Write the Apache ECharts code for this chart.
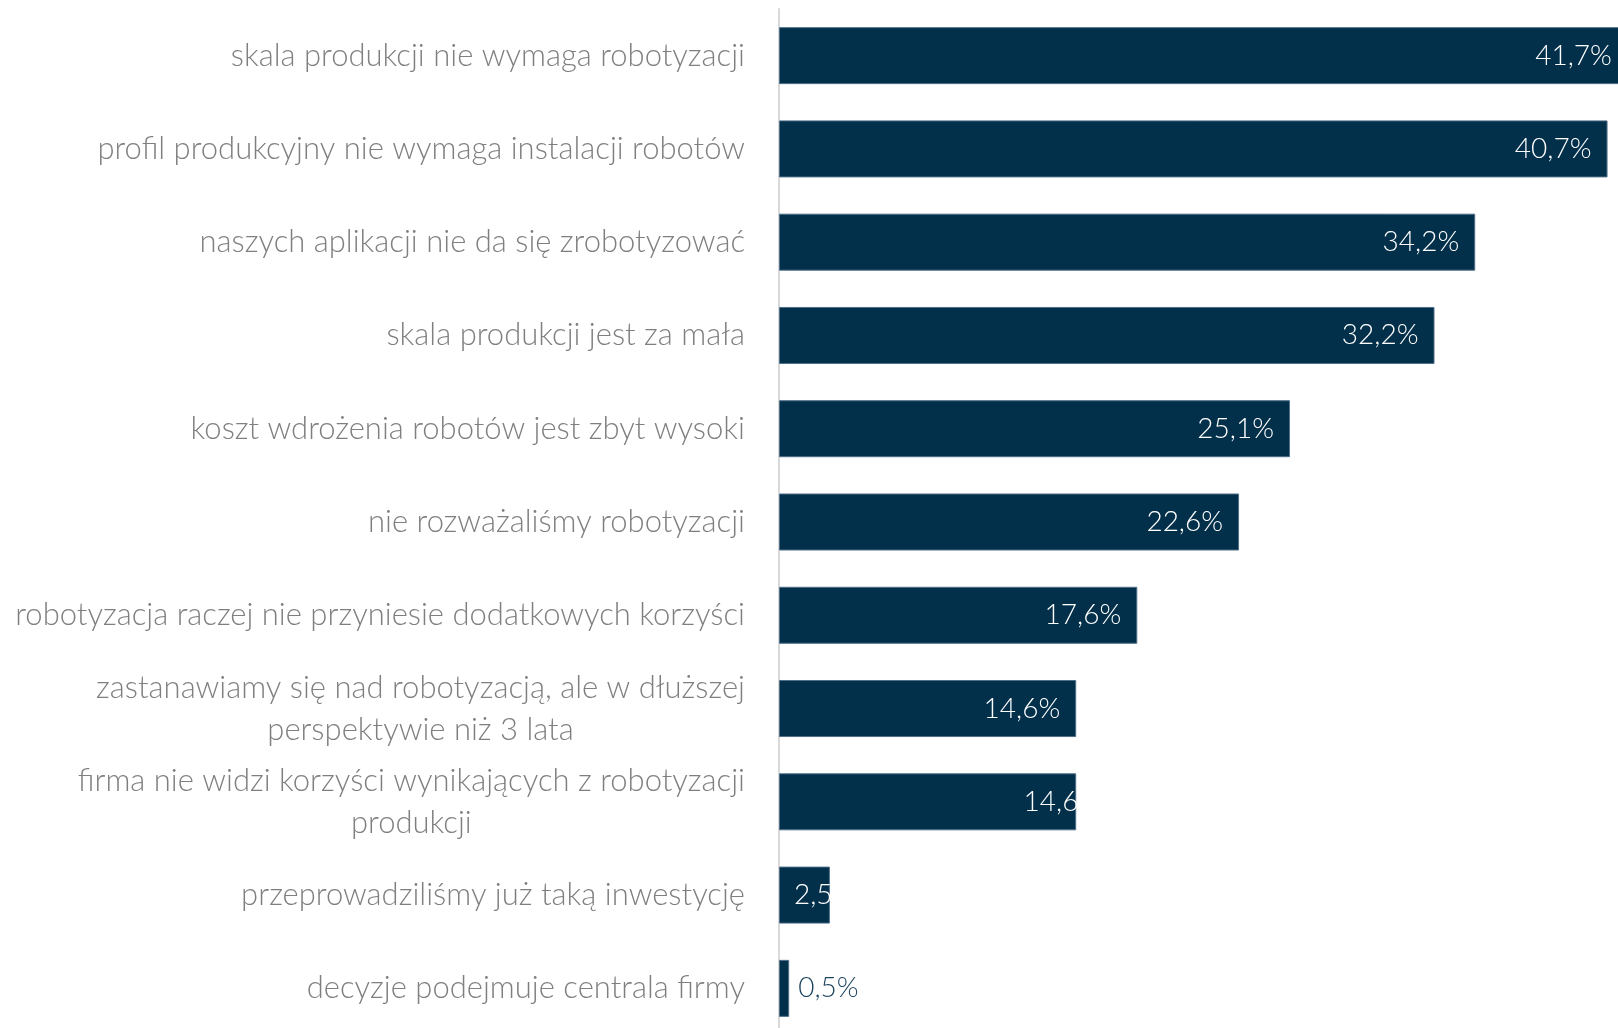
<!DOCTYPE html>
<html>
<head>
<meta charset="utf-8">
<script src="https://cdn.jsdelivr.net/npm/echarts@6/dist/echarts.min.js"></script>
<style>
  html, body { margin: 0; padding: 0; background: #ffffff; }
  #chart { width: 1618px; height: 1028px; }
</style>
</head>
<body>
<div id="chart"></div>
<script>
// Powody braku robotyzacji (% odpowiedzi)
const categories = [
  'skala produkcji nie wymaga robotyzacji',
  'profil produkcyjny nie wymaga instalacji robotów',
  'naszych aplikacji nie da się zrobotyzować',
  'skala produkcji jest za mała',
  'koszt wdrożenia robotów jest zbyt wysoki',
  'nie rozważaliśmy robotyzacji',
  'robotyzacja raczej nie przyniesie dodatkowych korzyści',
  'zastanawiamy się nad robotyzacją, ale w dłuższej\nperspektywie niż 3 lata',
  'firma nie widzi korzyści wynikających z robotyzacji\nprodukcji',
  'przeprowadziliśmy już taką inwestycję',
  'decyzje podejmuje centrala firmy'
];
const values = [41.7, 40.7, 34.2, 32.2, 25.1, 22.6, 17.6, 14.6, 14.6, 2.5, 0.5];

const FONT = 'Lato, "Open Sans", sans-serif';
const BAR_COLOR = '#022f4a';

function pct(v) {
  return v.toFixed(1).replace('.', ',') + '%';
}

// label placement tweaks for the short bars
const labelTweaks = {
  8: { offset: [40, 0] },
  9: { position: 'insideLeft', distance: 15 },
  10: { position: 'right', distance: 9, color: '#1d4560' }
};

const seriesData = values.map((v, i) => {
  const item = { value: v };
  if (labelTweaks[i]) item.label = labelTweaks[i];
  return item;
});

const chart = echarts.init(document.getElementById('chart'), null, { renderer: 'canvas' });

chart.setOption({
  backgroundColor: '#ffffff',
  animation: false,
  grid: {
    left: 779,
    top: 9,
    width: 855,
    height: 1026,
    outerBoundsMode: 'none',
    containLabel: false
  },
  xAxis: {
    type: 'value',
    min: 0,
    max: 42,
    show: false
  },
  yAxis: {
    type: 'category',
    data: categories,
    inverse: true,
    offset: 1,
    axisLine: { show: true, lineStyle: { color: '#d9d9d9', width: 2 } },
    axisTick: { show: false },
    splitLine: { show: false },
    axisLabel: {
      margin: 33,
      color: '#7f7f7f',
      fontFamily: FONT,
      fontWeight: 300,
      fontSize: 31,
      lineHeight: 42,
      formatter: function (val) {
        return val.split('\n').map(function (l) { return '{c|' + l + '}'; }).join('\n');
      },
      rich: {
        c: {
          align: 'center',
          color: '#7f7f7f',
          fontFamily: FONT,
          fontWeight: 300,
          fontSize: 31,
          lineHeight: 42
        }
      }
    }
  },
  series: [{
    type: 'bar',
    data: seriesData,
    barWidth: 57,
    itemStyle: {
      color: BAR_COLOR,
      borderColor: '#4f6f88',
      borderWidth: 1
    },
    label: {
      show: true,
      position: 'insideRight',
      distance: 16,
      color: '#ffffff',
      fontFamily: FONT,
      fontWeight: 300,
      fontSize: 28,
      formatter: function (p) { return pct(p.value); }
    }
  }]
});
</script>
</body>
</html>
